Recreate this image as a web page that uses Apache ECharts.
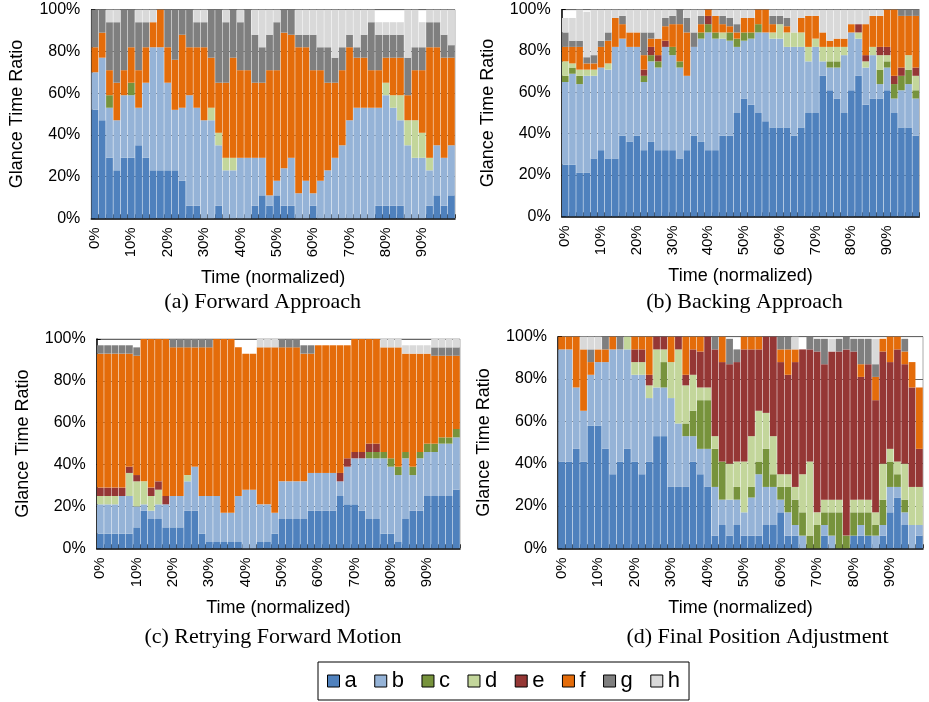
<!DOCTYPE html>
<html>
<head>
<meta charset="utf-8">
<script src="https://cdn.jsdelivr.net/npm/echarts@6.0.0/dist/echarts.min.js"></script>
<style>html,body{margin:0;padding:0;background:#fff}#chart{width:929px;height:702px}</style>
</head>
<body>
<div id="chart"></div>
<script>
// ---- categories / tick labels (50 time bins, labelled every 10%) ----
const timeLabels = ['0%','2%','4%','6%','8%','10%','12%','14%','16%','18%','20%','22%','24%','26%','28%','30%','32%','34%','36%','38%','40%','42%','44%','46%','48%','50%','52%','54%','56%','58%','60%','62%','64%','66%','68%','70%','72%','74%','76%','78%','80%','82%','84%','86%','88%','90%','92%','94%','96%','98%'];
const seriesNames = ['a','b','c','d','e','f','g','h'];
const seriesColors = ['#4f81bd','#95b3d7','#77933c','#c3d69b','#953735','#e46c0a','#7f7f7f','#d9d9d9'];

// ---- (a) Forward Approach ----
const A_a = [52,47,29,23,29,29,35,29,23,23,23,23,18,6,6,0,0,6,0,0,0,0,6,11,6,11,6,6,0,0,6,0,0,0,0,0,0,0,0,6,6,6,6,0,0,0,6,11,6,11];
const A_b = [18,30,24,24,30,30,18,36,59,59,42,29,35,53,47,47,47,29,23,23,29,29,23,18,5,7,18,23,12,18,6,18,23,29,35,47,53,53,53,47,53,47,41,35,29,29,17,24,23,24];
const A_c = [0,0,6,0,0,6,0,0,0,0,0,0,0,0,0,0,0,0,0,0,0,0,0,0,0,0,0,0,0,0,0,0,0,0,0,0,0,0,0,0,0,0,0,0,0,0,0,0,0,0];
const A_d = [0,0,0,0,0,0,0,0,0,0,0,0,0,0,0,0,6,6,6,6,0,0,0,0,0,0,0,0,0,0,0,0,0,0,0,0,0,0,0,0,6,6,12,12,18,12,6,0,0,0];
const A_e = [0,0,0,0,0,0,0,0,0,0,0,0,0,0,0,0,0,0,0,0,0,0,0,0,0,0,0,0,0,0,0,0,0,0,0,0,0,0,0,0,0,0,0,0,0,0,0,0,0,0];
const A_f = [12,12,12,18,12,17,18,17,12,18,17,24,35,23,29,35,24,24,36,48,42,42,36,36,60,53,65,59,70,64,59,53,42,36,36,35,24,24,18,18,12,18,18,12,24,30,53,47,48,42];
const A_g = [18,11,23,29,29,18,23,12,0,0,18,24,12,18,12,12,23,35,29,23,23,29,23,17,17,23,11,12,6,6,17,11,17,12,11,6,5,11,23,17,11,11,11,18,11,11,12,12,11,6];
const A_h = [0,0,6,6,0,0,6,6,6,0,0,0,0,0,6,6,0,0,6,0,6,0,12,18,12,6,0,0,12,12,12,18,18,23,18,12,18,12,6,6,6,6,6,23,18,12,6,6,12,17];

// ---- (b) Backing Approach ----
const B_a = [25,25,21,21,28,32,28,28,39,36,39,32,36,32,32,32,28,32,39,36,32,32,39,39,50,57,54,50,46,43,43,43,39,43,50,50,68,61,57,50,61,68,54,57,57,61,50,43,43,39];
const B_b = [40,44,43,47,40,40,43,54,47,46,43,33,39,40,50,46,44,36,43,50,57,54,47,46,32,28,32,39,43,43,43,39,43,39,25,32,7,11,15,28,28,18,18,21,7,11,7,18,21,18];
const B_c = [3,3,4,0,0,0,0,0,0,0,0,3,3,3,0,4,3,0,0,3,4,3,0,4,4,4,3,4,0,0,0,0,0,0,0,0,0,3,3,0,0,0,0,0,7,3,7,7,7,4];
const B_d = [7,2,3,3,3,0,3,0,0,0,0,0,0,0,0,0,0,0,0,0,0,0,3,0,0,0,0,0,0,3,7,7,7,7,7,4,7,7,7,4,0,3,3,4,7,3,0,0,7,7];
const B_e = [0,0,0,0,0,0,0,0,0,0,0,3,4,3,3,0,0,0,0,0,4,0,0,0,0,0,0,0,0,0,0,0,0,0,0,0,0,0,0,0,0,4,3,0,4,4,4,4,0,4];
const B_f = [7,8,11,3,3,10,11,14,7,7,7,7,4,8,7,11,18,21,0,4,3,8,4,3,3,7,7,7,11,4,0,3,0,7,15,11,7,3,4,4,4,0,15,15,15,18,32,25,19,25];
const B_g = [7,3,3,3,4,3,4,0,4,0,0,11,3,0,4,4,7,7,7,4,0,0,4,4,4,0,0,0,0,4,4,4,0,0,0,0,0,0,0,0,0,0,0,0,0,0,0,3,3,3];
const B_h = [7,11,15,22,22,15,11,4,3,11,11,11,11,14,4,3,0,4,11,3,0,3,3,4,7,4,4,0,0,3,3,4,11,4,3,3,11,15,14,14,7,7,7,3,3,0,0,0,0,0];

// ---- (c) Retrying Forward Motion ----
const C_a = [7,7,7,7,7,10,18,14,14,10,10,10,18,18,7,3,3,3,3,3,0,0,3,3,7,14,14,14,14,18,18,18,18,25,21,21,18,14,14,7,7,3,14,18,18,25,25,25,25,28];
const C_b = [14,14,14,18,18,10,3,4,7,11,15,15,14,21,18,22,22,14,14,22,28,28,18,18,10,18,18,18,18,18,18,18,18,7,18,22,25,29,29,36,32,32,29,17,25,21,21,25,25,25];
const C_c = [0,0,0,0,0,0,0,0,0,0,0,0,0,0,0,0,0,0,0,0,0,0,0,0,0,0,0,0,0,0,0,0,0,0,0,0,0,3,3,3,4,4,3,4,3,4,4,3,3,4];
const C_d = [4,4,4,0,11,12,11,7,7,0,0,0,3,0,0,0,0,0,0,0,0,0,0,0,0,0,0,0,0,0,0,0,0,0,0,0,0,0,0,0,0,0,0,0,0,0,0,0,0,0];
const C_e = [4,4,4,4,3,3,0,4,4,4,0,0,0,0,0,0,0,0,0,0,0,0,0,0,0,0,0,0,0,0,0,0,0,4,4,3,3,4,4,0,0,0,0,0,0,0,0,0,0,0];
const C_f = [64,64,64,64,54,57,68,71,68,75,71,71,61,57,71,71,75,83,83,71,65,65,75,75,79,64,64,64,61,57,61,61,61,61,54,54,54,50,50,50,53,57,47,54,47,43,42,39,39,35];
const C_g = [4,4,4,4,4,4,0,0,0,0,4,4,4,4,4,4,0,0,0,0,0,0,0,0,0,4,4,4,4,4,0,0,0,0,0,0,0,0,0,0,0,0,0,0,0,0,4,4,4,4];
const C_h = [0,0,0,0,0,0,0,0,0,0,0,0,0,0,0,0,0,0,0,0,0,0,4,4,4,0,0,0,0,0,0,0,0,0,0,0,0,0,0,4,4,4,4,4,4,4,4,4,4,4];

// ---- (d) Final Position Adjustment ----
const D_a = [41,41,47,41,58,58,47,35,41,47,41,35,41,53,53,29,29,29,41,35,29,6,11,6,11,6,6,6,11,11,17,6,6,0,0,0,6,0,0,0,6,6,6,0,6,17,24,11,0,6];
const D_b = [53,53,29,24,24,30,41,59,53,47,41,47,30,23,23,42,30,24,12,12,18,23,12,17,12,11,18,29,18,18,6,11,5,6,0,0,5,6,0,0,0,5,0,6,5,12,5,6,11,5];
const D_c = [0,0,0,0,0,0,0,0,0,0,0,0,0,0,12,0,0,6,12,23,23,18,18,0,6,0,5,6,18,6,6,12,12,11,6,11,6,11,17,6,11,6,11,5,12,12,6,6,0,0];
const D_d = [0,0,0,0,0,0,0,0,0,6,6,6,6,18,6,17,35,18,17,6,6,6,0,17,12,24,24,24,17,18,6,6,6,18,35,6,6,6,6,0,6,6,6,6,17,6,6,17,18,18];
const D_e = [0,0,0,0,0,0,0,0,0,0,6,6,5,6,6,0,6,5,12,17,24,41,47,47,47,53,41,29,36,47,53,47,59,59,53,76,64,70,70,88,70,58,64,53,53,41,53,47,47,18];
const D_f = [6,6,24,29,6,6,6,6,0,0,6,6,18,0,0,12,0,18,6,7,0,0,12,0,0,6,6,6,0,0,6,12,6,0,0,0,0,0,0,0,0,6,0,11,6,12,6,6,12,29];
const D_g = [0,0,0,0,6,0,6,0,6,0,0,0,0,0,0,0,0,0,0,0,0,6,0,12,6,0,0,0,0,0,6,6,0,0,6,6,12,0,6,6,6,12,12,6,0,0,0,6,0,0];
const D_h = [0,0,0,6,6,6,0,0,0,0,0,0,0,0,0,0,0,0,0,0,0,0,0,0,0,0,0,0,0,0,0,0,6,0,0,0,0,6,0,0,0,0,0,12,0,0,0,0,0,0];

const panelData = [
  [A_a,A_b,A_c,A_d,A_e,A_f,A_g,A_h],
  [B_a,B_b,B_c,B_d,B_e,B_f,B_g,B_h],
  [C_a,C_b,C_c,C_d,C_e,C_f,C_g,C_h],
  [D_a,D_b,D_c,D_d,D_e,D_f,D_g,D_h]
];
const captions = ['(a) Forward Approach','(b) Backing Approach','(c) Retrying Forward Motion','(d) Final Position Adjustment'];

// ---- layout (styles/positions) ----
const SANS = '"Liberation Sans", Arial, Helvetica, sans-serif';
const SERIF = '"Liberation Serif", "Times New Roman", serif';
const grids = [
  {left:91.3, top:9.7, width:363.7, height:208.6},
  {left:561.7, top:9.7, width:357.6, height:206.6},
  {left:96.7, top:339, width:363.3, height:209.3},
  {left:558, top:336.7, width:365, height:211.6}
];
const captionPos = [[262.7,302],[744.5,302],[273,637],[757.5,637]];

const option = {
  animation: false,
  backgroundColor: '#fff',
  grid: grids.map(g => Object.assign({show:true, borderColor:'#aaa', borderWidth:1, backgroundColor:'transparent', containLabel:false, outerBoundsMode:'none'}, g)),
  xAxis: grids.map((g,i) => ({
    type:'category', gridIndex:i, data:timeLabels, boundaryGap:true,
    axisLine:{show:true, lineStyle:{color:'#000', width:1.5}},
    axisTick:{show:true, inside:true, length:4, interval:0, lineStyle:{color:'#333', width:1}},
    axisLabel:{show:true, interval:4, rotate:90, margin:9, fontSize:15, fontFamily:SANS, color:'#000', hideOverlap:false},
    splitLine:{show:false},
    name:'Time (normalized)', nameLocation:'middle', nameGap:51,
    nameTextStyle:{fontSize:18, fontFamily:SANS, color:'#000'}
  })),
  yAxis: grids.map((g,i) => ({
    type:'value', gridIndex:i, min:0, max:100, interval:20,
    axisLine:{show:true, lineStyle:{color:'#000', width:1.5}},
    axisTick:{show:true, inside:true, length:4, lineStyle:{color:'#000'}},
    axisLabel:{formatter:'{value}%', fontSize:16, margin:11, fontFamily:SANS, color:'#000'},
    splitLine:{show:true, lineStyle:{color:'#666', width:1}},
    name:'Glance Time Ratio', nameLocation:'middle', nameGap:65, nameRotate:90,
    nameTextStyle:{fontSize:18, fontFamily:SANS, color:'#000'}
  })),
  legend: {
    data: seriesNames, left:318, top:662, orient:'horizontal', icon:'rect',
    itemWidth:12, itemHeight:12, itemGap:17.5, padding:[8,9],
    borderColor:'#000', borderWidth:1, backgroundColor:'#fff', selectedMode:false,
    itemStyle:{borderColor:'#000', borderWidth:1},
    textStyle:{fontSize:22, fontFamily:SANS, color:'#000'}
  },
  graphic: captions.map((t,i) => ({
    type:'text', x:captionPos[i][0], y:captionPos[i][1], silent:true,
    style:{text:t, font:'22px ' + SERIF, fill:'#000', align:'center', verticalAlign:'middle', textAlign:'center', textVerticalAlign:'middle'}
  })),
  series: []
};

panelData.forEach((arrs, p) => {
  arrs.forEach((vals, k) => {
    option.series.push({
      type:'bar', name:seriesNames[k], stack:'panel'+p,
      xAxisIndex:p, yAxisIndex:p, data:vals,
      barCategoryGap:'7%',
      itemStyle:{color:seriesColors[k]},
      emphasis:{disabled:true}
    });
  });
});

const chart = echarts.init(document.getElementById('chart'), null, {renderer:'canvas'});
chart.setOption(option);
</script>
</body>
</html>
